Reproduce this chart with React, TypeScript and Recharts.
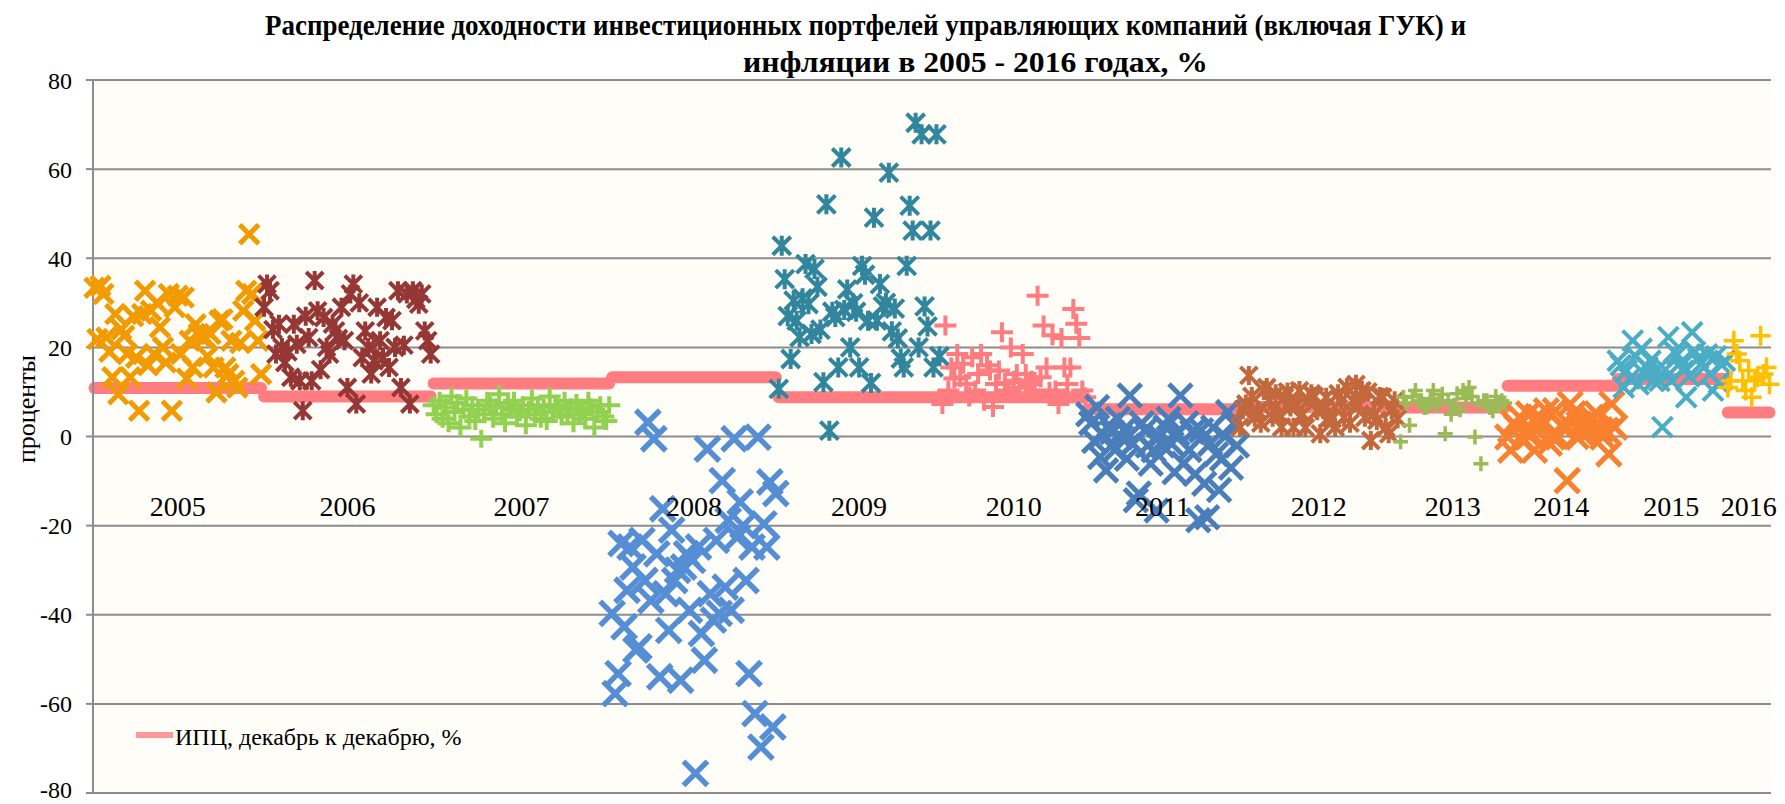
import React from 'react';
import { ComposedChart, Scatter, Line, XAxis, YAxis, CartesianGrid, ReferenceDot } from 'recharts';

const YEARS = ['2005', '2006', '2007', '2008', '2009', '2010', '2011', '2012', '2013', '2014', '2015', '2016'];
const CPI = [10.9, 9.0, 11.9, 13.3, 8.8, 8.8, 6.1, 6.6, 6.5, 11.4, 12.9, 5.4];
const Y_TICKS = [-80, -60, -40, -20, 0, 20, 40, 60, 80];
const YEAR_LABEL_Y = -15.5;

const TITLE_1 = 'Распределение доходности инвестиционных портфелей управляющих компаний (включая ГУК) и';
const TITLE_2 = 'инфляции в 2005 - 2016 годах, %';
const Y_LABEL = 'проценты';
const LEGEND_LABEL = 'ИПЦ, декабрь к декабрю, %';

const r2005 = [33.4, 21.9, 33.8, 32, 22.2, 19, 13.3, 27.5, 9.5, 24, 22.6, 18.5, 13.3, 27, 17.7, 5.8, 27.5, 32.7, 16, 28.2, 18.5, 30, 24.5, 20, 16.6, 32, 5.8, 29, 31.6, 18.5, 31.2, 13, 21.5, 15.5, 25.2, 23, 22.2, 22.2, 18, 23, 15.5, 9.9, 26, 26.3, 15.5, 14, 21.5, 12.5, 11, 21, 28.2, 32.7, 45.4, 32, 26, 21.5, 14];
const r2006 = [29, 34.2, 32.7, 24, 18.5, 25.2, 20, 16.6, 19, 13.3, 25.2, 20.7, 12.5, 5.8, 27, 22.2, 12.5, 35, 28.2, 15, 26.7, 20, 18.5, 25.2, 23.7, 22, 29, 21.5, 11, 32, 34.2, 7.3, 30, 17.7, 23.7, 20, 14, 17, 29, 21.5, 17.7, 26.7, 15.5, 26, 20, 32.7, 11, 20.5, 32, 7.3, 32.7, 30.8, 29.7, 32, 23.7, 21.5, 18.5];
const r2007 = [7, 5, 8, 4, 6.5, 3, 9, 5.5, 7.5, 2, 6, 8.5, 4.5, 7, 3.5, 6, -0.5, 5, 8, 7, 4, 6.5, 9.5, 5, 3, 7.5, 6, 8, 4.5, 5.5, 7, 2.5, 6, 8.5, 5, 7, 4, 6.5, 3.5, 9, 5.5, 7, 6, 4.5, 8, 5, 6.5, 3, 7.5, 5, 6, 4, 8, 6.5, 2, 5.5, 7, 4.5, 3.5, 7];
const r2008 = [-39.7, -57.7, -53.2, -24, -42.7, -34.5, -24.8, -29.3, -47.9, -47.2, -23.3, -32.3, 3.2, -36.8, -0.5, -26.3, -53.9, -16.2, -35.3, -43.5, -21, -32.3, -30, -54.7, -29.3, -26.3, -39, -27.8, -75.6, -24.8, -44.2, -50.2, -2.8, -35.3, -41.2, -23.3, -39.7, -9.9, -33.8, -18.8, -39, -0.5, -22.6, -14.7, -20, -32.3, -53.2, -24.8, -62.2, -0.15, -69.7, -19.6, -24.8, -10.2, -65.2, -12.8];
const r2009 = [10.7, 42.8, 35.3, 27, 17.4, 30.5, 26, 22.3, 31, 38.7, 29.7, 23, 37.6, 33.6, 24, 12.2, 52.1, 1.3, 28, 26.8, 15.5, 62.6, 28.4, 33, 20, 29.9, 28, 15.5, 38.3, 36.3, 26, 12, 49.1, 26, 34.2, 29.2, 30, 59.2, 23.6, 28.7, 22, 17.5, 15.5, 38.3, 51.8, 46.2, 70.4, 20, 67.8, 29.2, 24.7, 46.2, 15.5, 67.8, 18];
const r2010 = [7.3, 24.9, 10.3, 15.5, 13, 18.5, 13.3, 16.3, 11.8, 9, 17.8, 10.3, 14, 18.5, 8, 16, 14.8, 6.6, 11.8, 14.8, 23.4, 12, 10.3, 20, 12.5, 14, 11, 18.5, 14, 11.8, 12.5, 10.3, 31.6, 13.3, 24.9, 15.5, 10, 22.7, 10.3, 7.3, 22.1, 15.5, 11.8, 15.5, 28.6, 25.3, 22.1, 10.3, 8.8];
const r2011 = [5, 3, -1, 6.6, -4.6, 0.5, -7.6, 2.5, 1, -3, 4, -0.1, 1.5, -5, 9.2, -1.6, -14.3, -12.8, 3, 1.4, -2, -6.1, -3.1, -16.6, 0, -2, 2.1, 4, -1.6, -8, 0.6, 9.2, -6.1, 3, -3, 1, -8.4, -18.8, 1.4, -10.6, -18.1, -1.6, 2, -4, -12, -5, 0, 5.5, -7, 3, -2];
const r2012 = [2.1, 6, 7.3, 13.7, 9, 4.3, 5.8, 3, 10.3, 11, 8, 4.3, 9.6, 5, 2.1, 8.8, 10, 6.6, 2.1, 7, 10.3, 5, 2, 8, 9.6, 9, 5.8, 0.6, 6, 8.8, 4.3, 4, 2.1, 9.6, 8, 4.3, 11, 3, 8, 11.7, 7, 10.3, 4.3, 10, -0.9, 5, 3.6, 9, 8.8, 2, 0.6, 6, 8, 4];
const r2013 = [-1.2, 8.8, 7.5, 2.5, 9, 10.3, 8, 8, 6.5, 6.6, 8.5, 10.3, 7, 8, 9.5, 0.6, 8, 5, 7, 9.6, 6, 10.3, 8.5, 11, 9, -0.1, 7.5, -6.1, 8, 8, 6.5, 5.8, 9, 7, 8, 7.5];
const r2014 = [-0.1, -3.1, 3, 2.1, 4.3, -0.9, 1, 5.1, 0.6, -3.1, 4.5, 2.1, 3.6, 5.8, -1.5, -0.1, 5.8, -0.1, 2.5, 2.1, -9.9, 7.3, 5.1, 0, 2.8, 0.6, 2.8, 3.5, 4.3, 2.1, 5.1, 1.5, -0.1, 1.4, -3.9, 7.3, 2.1];
const r2015 = [17, 16, 11, 14.8, 13, 21.5, 18, 11.7, 19.7, 14, 15.5, 17, 12.5, 14.8, 12.5, 2.1, 15, 22.3, 12.5, 19, 18.4, 16.5, 14.8, 8.8, 13.5, 23.4, 19, 17.5, 16.3, 15.5, 18.4, 14, 10.3, 18, 12, 16, 17];
const r2016 = [11, 12.5, 21.5, 18.5, 17, 12.5, 10.3, 14.8, 8.8, 12.5, 13.3, 22.6, 14, 15.5, 11.7];

const RETURNS = [r2005, r2006, r2007, r2008, r2009, r2010, r2011, r2012, r2013, r2014, r2015, r2016];

type Kind = 'x' | 'star' | 'plus';
interface MStyle { color: string; kind: Kind; h: number; v?: number; sw: number; }
const STYLES: MStyle[] = [
  { color: '#F29B00', kind: 'x', h: 9.5, sw: 5 },
  { color: '#953735', kind: 'star', h: 8.5, sw: 4 },
  { color: '#92D050', kind: 'plus', h: 11, v: 9, sw: 4 },
  { color: '#558ED5', kind: 'x', h: 12, sw: 5.5 },
  { color: '#31859C', kind: 'star', h: 9, sw: 4 },
  { color: '#FF7C80', kind: 'plus', h: 11, v: 10, sw: 4 },
  { color: '#4A7EBB', kind: 'x', h: 11.5, sw: 5 },
  { color: '#C3683D', kind: 'star', h: 8.5, sw: 4 },
  { color: '#9BBB59', kind: 'plus', h: 7.5, v: 7.5, sw: 3.5 },
  { color: '#F8802F', kind: 'x', h: 12, sw: 5 },
  { color: '#4BACC6', kind: 'x', h: 10, sw: 4 },
  { color: '#FFC000', kind: 'plus', h: 10, v: 10, sw: 3.5 },
];

const CPI_COLOR = '#FF7C80';
const SERIF = "'Liberation Serif', 'Times New Roman', serif";
const CHART_H = 804;

const makeShape = (st: MStyle) => (props: any) => {
  const { cx, cy } = props;
  if (cx == null || cy == null) return <g />;
  const h = st.h;
  const v = st.v ?? st.h;
  let d = '';
  if (st.kind === 'x' || st.kind === 'star') {
    d = `M${cx - h},${cy - h}L${cx + h},${cy + h}M${cx - h},${cy + h}L${cx + h},${cy - h}`;
    if (st.kind === 'star') d += `M${cx},${cy - h - 1}L${cx},${cy + h + 1}`;
  } else {
    d = `M${cx - h},${cy}L${cx + h},${cy}M${cx},${cy - v}L${cx},${cy + v}`;
  }
  return <path d={d} stroke={st.color} strokeWidth={st.sw} fill="none" />;
};

const YTick = (props: any) => {
  const { x, y, payload } = props;
  const yy = Math.min(y, CHART_H - 15);
  return (
    <text x={x} y={yy} dy="0.355em" textAnchor="end" fill="#000" fontSize={24} fontFamily={SERIF}>
      {payload.value}
    </text>
  );
};

let offset = 0;
const GROUPS = RETURNS.map((vals, k) => {
  const start = offset;
  const n = vals.length;
  offset += n;
  return {
    year: YEARS[k],
    points: vals.map((v, i) => ({ x: start + i + 0.5, y: v })),
    segment: [
      { x: start + 0.5, y: CPI[k] },
      { x: start + n - 0.5, y: CPI[k] },
    ],
    center: start + n / 2,
  };
});
const TOTAL = offset;

export default function App() {
  return (
    <div style={{ position: 'absolute', left: 0, top: 0, width: 1785, height: CHART_H, background: '#ffffff', overflow: 'hidden' }}>
      <ComposedChart width={1785} height={CHART_H} margin={{ top: 80, right: 14, bottom: 11, left: 0 }}>
        <CartesianGrid vertical={false} stroke="#8C8C8C" strokeWidth={2} fill="#FEFDF8" fillOpacity={1} />
        <XAxis dataKey="x" type="number" domain={[0, TOTAL]} hide />
        <YAxis
          type="number"
          domain={[-80, 80]}
          ticks={Y_TICKS}
          interval={0}
          width={93}
          tickSize={7}
          tickMargin={14}
          axisLine={{ stroke: '#8C8C8C', strokeWidth: 2 }}
          tickLine={{ stroke: '#8C8C8C', strokeWidth: 2 }}
          tick={<YTick />}
        />
        {GROUPS.map((g, k) => (
          <Scatter
            key={'s' + g.year}
            data={g.points}
            dataKey="y"
            shape={makeShape(STYLES[k])}
            isAnimationActive={false}
          />
        ))}
        {GROUPS.map((g) => (
          <Line
            key={'l' + g.year}
            data={g.segment}
            dataKey="y"
            stroke={CPI_COLOR}
            strokeWidth={12}
            strokeLinecap="round"
            dot={false}
            activeDot={false}
            isAnimationActive={false}
          />
        ))}
        {GROUPS.map((g) => (
          <ReferenceDot
            key={'t' + g.year}
            x={g.center}
            y={YEAR_LABEL_Y}
            r={1}
            fill="none"
            stroke="none"
            ifOverflow="visible"
            label={{ value: g.year, position: 'center', fill: '#000', fontSize: 28, fontFamily: SERIF }}
          />
        ))}
      </ComposedChart>
      <svg width={1785} height={CHART_H} style={{ position: 'absolute', left: 0, top: 0, pointerEvents: 'none' }}>
        <text x={265} y={35} fontFamily={SERIF} fontWeight="bold" fontSize={30} textLength={1201} lengthAdjust="spacingAndGlyphs" fill="#000">
          {TITLE_1}
        </text>
        <text x={743} y={72} fontFamily={SERIF} fontWeight="bold" fontSize={30} textLength={465} lengthAdjust="spacingAndGlyphs" fill="#000">
          {TITLE_2}
        </text>
        <text x={26} y={409} transform="rotate(-90 26 409)" textAnchor="middle" dominantBaseline="central" fontFamily={SERIF} fontSize={26} fill="#000">
          {Y_LABEL}
        </text>
        <line x1={136} y1={735} x2={173} y2={735} stroke="#FF9999" strokeWidth={6} />
        <text x={175} y={745} fontFamily={SERIF} fontSize={24} fill="#000">
          {LEGEND_LABEL}
        </text>
      </svg>
    </div>
  );
}
